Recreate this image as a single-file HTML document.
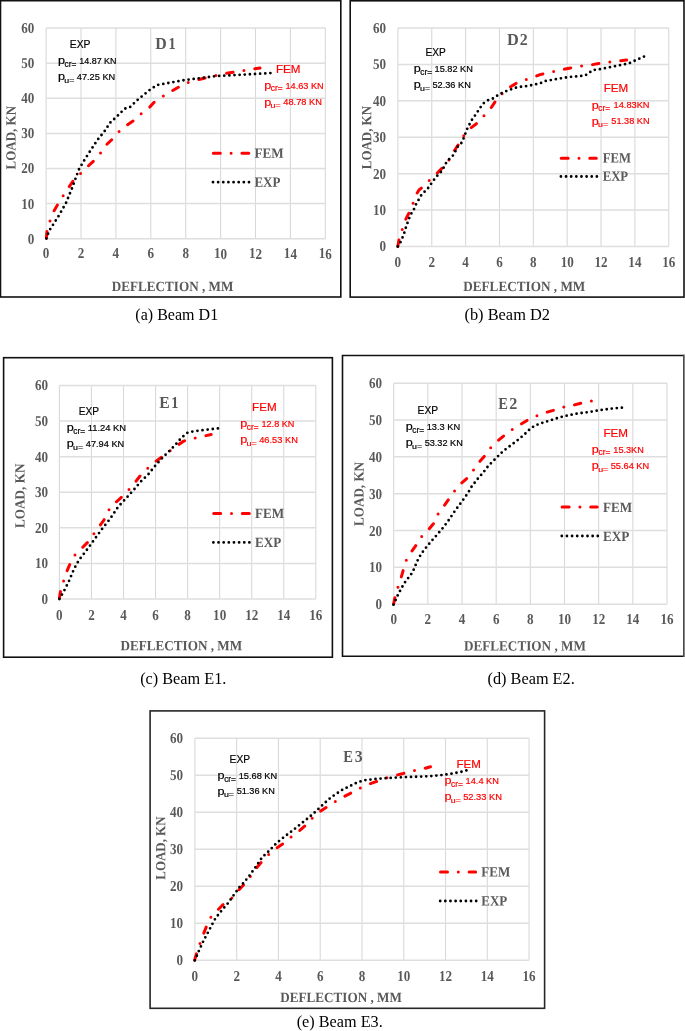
<!DOCTYPE html><html><head><meta charset="utf-8"><style>html,body{margin:0;padding:0;background:#fff;width:685px;height:1031px;overflow:hidden}svg{display:block}</style></head><body>
<svg style="will-change:transform" width="685" height="1031" viewBox="0 0 685 1031">
<rect width="685" height="1031" fill="#fff"/>
<rect x="0.5" y="0.7" width="340.3" height="296.3" fill="none" stroke="#111" stroke-width="1.6"/>
<path d="M46.1 28.1V238.7M81 28.1V238.7M115.9 28.1V238.7M150.8 28.1V238.7M185.7 28.1V238.7M220.6 28.1V238.7M255.5 28.1V238.7M290.4 28.1V238.7M325.3 28.1V238.7" stroke="#d9d9d9" stroke-width="1.1" fill="none"/>
<path d="M46.1 238.7H325.3M46.1 203.6H325.3M46.1 168.5H325.3M46.1 133.4H325.3M46.1 98.3H325.3M46.1 63.2H325.3M46.1 28.1H325.3" stroke="#dedede" stroke-width="1.5" fill="none"/>
<g font-family='"Liberation Serif", serif' font-weight="bold" font-size="13.1" fill="#595959"><text transform="translate(34.4 243.7) rotate(0.03) scale(1 1.15)" text-anchor="end">0</text><text transform="translate(34.4 208.6) rotate(0.03) scale(1 1.15)" text-anchor="end">10</text><text transform="translate(34.4 173.5) rotate(0.03) scale(1 1.15)" text-anchor="end">20</text><text transform="translate(34.4 138.4) rotate(0.03) scale(1 1.15)" text-anchor="end">30</text><text transform="translate(34.4 103.3) rotate(0.03) scale(1 1.15)" text-anchor="end">40</text><text transform="translate(34.4 68.2) rotate(0.03) scale(1 1.15)" text-anchor="end">50</text><text transform="translate(34.4 33.1) rotate(0.03) scale(1 1.15)" text-anchor="end">60</text><text transform="translate(46.1 258.5) rotate(0.03) scale(1 1.15)" text-anchor="middle">0</text><text transform="translate(81 258.5) rotate(0.03) scale(1 1.15)" text-anchor="middle">2</text><text transform="translate(115.9 258.5) rotate(0.03) scale(1 1.15)" text-anchor="middle">4</text><text transform="translate(150.8 258.5) rotate(0.03) scale(1 1.15)" text-anchor="middle">6</text><text transform="translate(185.7 258.5) rotate(0.03) scale(1 1.15)" text-anchor="middle">8</text><text transform="translate(220.6 258.5) rotate(0.03) scale(1 1.15)" text-anchor="middle">10</text><text transform="translate(255.5 258.5) rotate(0.03) scale(1 1.15)" text-anchor="middle">12</text><text transform="translate(290.4 258.5) rotate(0.03) scale(1 1.15)" text-anchor="middle">14</text><text transform="translate(325.3 258.5) rotate(0.03) scale(1 1.15)" text-anchor="middle">16</text></g>
<g font-family='"Liberation Serif", serif' font-weight="bold" fill="#595959">
<text transform="translate(15.6 169.2) rotate(-89.97) scale(1 1.06)" x="-0.19" y="0" font-size="13.2" textLength="63.38" lengthAdjust="spacingAndGlyphs">LOAD, KN</text>
<text transform="translate(111.8 291) rotate(0.03) scale(1 1.07)" font-size="13.2" textLength="121.49" lengthAdjust="spacingAndGlyphs">DEFLECTION , MM</text>
<text x="155.36" y="49.3" font-size="16" textLength="11.49" lengthAdjust="spacingAndGlyphs">D</text>
<text x="168.45" y="49.3" font-size="16" textLength="7.16" lengthAdjust="spacingAndGlyphs">1</text>
<text transform="translate(254.4 157.8) rotate(0.03) scale(1 1.1)" font-size="12.8" textLength="29.15" lengthAdjust="spacingAndGlyphs">FEM</text>
<text transform="translate(254.41 186.7) rotate(0.03) scale(1 1.1)" font-size="12.8" textLength="25.92" lengthAdjust="spacingAndGlyphs">EXP</text>
</g>
<g font-family='"Liberation Sans", sans-serif' fill="#000" stroke="#000" stroke-width="0.2">
<text x="69.87" y="47.7" font-size="11.6" textLength="20.65" lengthAdjust="spacingAndGlyphs">EXP</text>
<text x="57.98" y="64.1" font-size="11.5" textLength="7.04" lengthAdjust="spacingAndGlyphs">p</text>
<text x="64.57" y="66.5" font-size="8.8" textLength="11.83" lengthAdjust="spacingAndGlyphs">cr=</text>
<text x="79.23" y="63.9" font-size="9.7" textLength="37.33" lengthAdjust="spacingAndGlyphs">14.87 KN</text>
<text x="57.98" y="79.8" font-size="11.5" textLength="7.04" lengthAdjust="spacingAndGlyphs">p</text>
<text x="64.33" y="82.6" font-size="7.8" textLength="10.01" lengthAdjust="spacingAndGlyphs">u=</text>
<text x="76.82" y="79.6" font-size="9.7" textLength="38.36" lengthAdjust="spacingAndGlyphs">47.25 KN</text>
</g>
<g font-family='"Liberation Sans", sans-serif' fill="#ff0000" stroke="#ff0000" stroke-width="0.2">
<text x="275.97" y="72.8" font-size="11.6" textLength="24.57" lengthAdjust="spacingAndGlyphs">FEM</text>
<text x="264.18" y="89" font-size="11.5" textLength="7.04" lengthAdjust="spacingAndGlyphs">p</text>
<text x="270.77" y="91.4" font-size="8.8" textLength="11.83" lengthAdjust="spacingAndGlyphs">cr=</text>
<text x="285.51" y="88.8" font-size="9.7" textLength="38.26" lengthAdjust="spacingAndGlyphs">14.63 KN</text>
<text x="264.18" y="105.6" font-size="11.5" textLength="7.04" lengthAdjust="spacingAndGlyphs">p</text>
<text x="270.53" y="108.4" font-size="7.8" textLength="10.01" lengthAdjust="spacingAndGlyphs">u=</text>
<text x="283.32" y="105.4" font-size="9.7" textLength="38.57" lengthAdjust="spacingAndGlyphs">48.78 KN</text>
</g>
<path d="M213.3 153.3H248.8" stroke="#ff0000" stroke-width="3" stroke-linecap="round" stroke-dasharray="7 10.8 0 10.8" fill="none"/>
<path d="M213 182.2H249.03" stroke="#000" stroke-width="2.8" stroke-linecap="round" stroke-dasharray="0 5.14" fill="none"/>
<polyline points="46.4,238 47,231 50,221 54,211 58,204 63,196 69,187 73,181 80,174 86.8,167.4 93.4,161.2 99.9,154 105.3,145.8 111.9,139.6 118.2,132.3 125.5,126.2 133.1,121 140,114.5 148.1,109 153.9,102.4 162,96.9 170,92 177,88 186,83 197,80 213,76 225,73.6 241,71 260,68" fill="none" stroke="#ff0000" stroke-width="3" stroke-linecap="round" stroke-linejoin="round" stroke-dasharray="6.5 11 0 11"/>
<polyline points="46.4,238.6 49,231 58,217 66,203 72.2,187.8 78.8,169.6 83.9,160.8 91.9,148.4 97.7,139.6 104.3,131.6 110.1,122.8 117.4,116 124.7,108.7 129.9,107.2 137.2,100.2 145.2,93.6 149.6,90 157,85 185,80 217,76 237,75 270.5,73.1" fill="none" stroke="#000" stroke-width="2.8" stroke-linecap="round" stroke-linejoin="round" stroke-dasharray="0 5.132"/>
<g font-family='"Liberation Serif", serif' fill="#000"><text x="135.38" y="319.5" font-size="16" textLength="82.78" lengthAdjust="spacingAndGlyphs">(a) Beam D1</text></g>
<rect x="350.2" y="0.8" width="333.8" height="296.3" fill="none" stroke="#111" stroke-width="1.6"/>
<path d="M397.9 28.1V246.4M431.76 28.1V246.4M465.61 28.1V246.4M499.47 28.1V246.4M533.33 28.1V246.4M567.18 28.1V246.4M601.04 28.1V246.4M634.89 28.1V246.4M668.75 28.1V246.4" stroke="#d9d9d9" stroke-width="1.1" fill="none"/>
<path d="M397.9 246.4H668.75M397.9 210.02H668.75M397.9 173.63H668.75M397.9 137.25H668.75M397.9 100.87H668.75M397.9 64.48H668.75M397.9 28.1H668.75" stroke="#dedede" stroke-width="1.5" fill="none"/>
<g font-family='"Liberation Serif", serif' font-weight="bold" font-size="13.1" fill="#595959"><text transform="translate(386 251.4) rotate(0.03) scale(1 1.15)" text-anchor="end">0</text><text transform="translate(386 215.02) rotate(0.03) scale(1 1.15)" text-anchor="end">10</text><text transform="translate(386 178.63) rotate(0.03) scale(1 1.15)" text-anchor="end">20</text><text transform="translate(386 142.25) rotate(0.03) scale(1 1.15)" text-anchor="end">30</text><text transform="translate(386 105.87) rotate(0.03) scale(1 1.15)" text-anchor="end">40</text><text transform="translate(386 69.48) rotate(0.03) scale(1 1.15)" text-anchor="end">50</text><text transform="translate(386 33.1) rotate(0.03) scale(1 1.15)" text-anchor="end">60</text><text transform="translate(397.9 266.8) rotate(0.03) scale(1 1.15)" text-anchor="middle">0</text><text transform="translate(431.76 266.8) rotate(0.03) scale(1 1.15)" text-anchor="middle">2</text><text transform="translate(465.61 266.8) rotate(0.03) scale(1 1.15)" text-anchor="middle">4</text><text transform="translate(499.47 266.8) rotate(0.03) scale(1 1.15)" text-anchor="middle">6</text><text transform="translate(533.33 266.8) rotate(0.03) scale(1 1.15)" text-anchor="middle">8</text><text transform="translate(567.18 266.8) rotate(0.03) scale(1 1.15)" text-anchor="middle">10</text><text transform="translate(601.04 266.8) rotate(0.03) scale(1 1.15)" text-anchor="middle">12</text><text transform="translate(634.89 266.8) rotate(0.03) scale(1 1.15)" text-anchor="middle">14</text><text transform="translate(668.75 266.8) rotate(0.03) scale(1 1.15)" text-anchor="middle">16</text></g>
<g font-family='"Liberation Serif", serif' font-weight="bold" fill="#595959">
<text transform="translate(371.2 169) rotate(-89.97) scale(1 1.06)" x="-0.19" y="0" font-size="13.2" textLength="63.18" lengthAdjust="spacingAndGlyphs">LOAD, KN</text>
<text transform="translate(463.2 291) rotate(0.03) scale(1 1.07)" font-size="13.2" textLength="122.1" lengthAdjust="spacingAndGlyphs">DEFLECTION , MM</text>
<text x="506.95" y="44.9" font-size="16" textLength="11.82" lengthAdjust="spacingAndGlyphs">D</text>
<text x="519.76" y="44.9" font-size="16" textLength="7.98" lengthAdjust="spacingAndGlyphs">2</text>
<text transform="translate(602.71 162.5) rotate(0.03) scale(1 1.1)" font-size="12.8" textLength="28.23" lengthAdjust="spacingAndGlyphs">FEM</text>
<text transform="translate(602.71 180.8) rotate(0.03) scale(1 1.1)" font-size="12.8" textLength="25.41" lengthAdjust="spacingAndGlyphs">EXP</text>
</g>
<g font-family='"Liberation Sans", sans-serif' fill="#000" stroke="#000" stroke-width="0.2">
<text x="425.59" y="55.9" font-size="11.6" textLength="20.22" lengthAdjust="spacingAndGlyphs">EXP</text>
<text x="413.68" y="72.1" font-size="11.5" textLength="7.04" lengthAdjust="spacingAndGlyphs">p</text>
<text x="420.27" y="74.5" font-size="8.8" textLength="11.83" lengthAdjust="spacingAndGlyphs">cr=</text>
<text x="434.61" y="71.9" font-size="9.7" textLength="38.26" lengthAdjust="spacingAndGlyphs">15.82 KN</text>
<text x="413.68" y="87.7" font-size="11.5" textLength="7.04" lengthAdjust="spacingAndGlyphs">p</text>
<text x="420.03" y="90.5" font-size="7.8" textLength="10.01" lengthAdjust="spacingAndGlyphs">u=</text>
<text x="432.43" y="87.5" font-size="9.7" textLength="38.45" lengthAdjust="spacingAndGlyphs">52.36 KN</text>
</g>
<g font-family='"Liberation Sans", sans-serif' fill="#ff0000" stroke="#ff0000" stroke-width="0.2">
<text x="603.77" y="92.1" font-size="11.6" textLength="24.47" lengthAdjust="spacingAndGlyphs">FEM</text>
<text x="591.78" y="108.5" font-size="11.5" textLength="7.04" lengthAdjust="spacingAndGlyphs">p</text>
<text x="598.37" y="110.9" font-size="8.8" textLength="11.83" lengthAdjust="spacingAndGlyphs">cr=</text>
<text x="613.51" y="108.3" font-size="9.7" textLength="36.05" lengthAdjust="spacingAndGlyphs">14.83KN</text>
<text x="591.78" y="124.6" font-size="11.5" textLength="7.04" lengthAdjust="spacingAndGlyphs">p</text>
<text x="598.13" y="127.4" font-size="7.8" textLength="10.01" lengthAdjust="spacingAndGlyphs">u=</text>
<text x="611.33" y="124.4" font-size="9.7" textLength="38.24" lengthAdjust="spacingAndGlyphs">51.38 KN</text>
</g>
<path d="M561.2 158.2H596.3" stroke="#ff0000" stroke-width="3" stroke-linecap="round" stroke-dasharray="7 10.8 0 10.8" fill="none"/>
<path d="M560.9 176.5H596.93" stroke="#000" stroke-width="2.8" stroke-linecap="round" stroke-dasharray="0 5.14" fill="none"/>
<polyline points="397.8,246.4 399.2,238.7 402.3,229.3 405.4,220 409.3,212.2 413,203.4 416.8,193.7 419,190 422.1,187.6 429.1,180.6 436.4,173.9 442.2,168 448.6,160.4 453.7,151.7 458.3,144.7 463.4,136 470,128.6 477.2,123.1 483.5,116.2 490.4,108.9 495.2,101.6 501,94.7 509.3,87.7 515.9,83.4 525.4,79.7 534.6,76.8 540,74.6 553,71.6 565,69 581,66 589.4,65.1 598.9,63.6 608.4,62.2 617.8,61.2 626.6,60.1" fill="none" stroke="#ff0000" stroke-width="3" stroke-linecap="round" stroke-linejoin="round" stroke-dasharray="6.5 11 0 11"/>
<polyline points="397.8,246.5 400.2,242.8 402.5,237.5 404.3,232.8 405.8,227.8 407.4,223.2 409.3,218 411.3,213.6 414,209.1 415.9,204.5 418.6,199.8 421,195.6 424.7,191.6 428.2,187.9 431.1,183.8 434,179.7 437.3,175.6 441.1,171.8 443.6,167.8 446,163.1 449,159.3 453,155.5 455.3,151.4 457.4,147 461.1,143.5 463.4,138.8 467,129.3 471.4,120.6 475,115.5 478,111.1 480.9,106.7 483.8,103.1 488.2,100.1 492.6,98.7 496.9,95.8 501.3,93.3 506.4,91 511.5,89.2 515.9,87.7 521.8,86.6 527.6,86 533.4,84.8 540,83.4 545,81 569,77 585,75.6 593,70 599.6,69.2 614.2,66.3 628.8,63.4 644.1,56.5" fill="none" stroke="#000" stroke-width="2.8" stroke-linecap="round" stroke-linejoin="round" stroke-dasharray="0 5.123"/>
<g font-family='"Liberation Serif", serif' fill="#000"><text x="464.46" y="319.8" font-size="16" textLength="85.55" lengthAdjust="spacingAndGlyphs">(b) Beam D2</text></g>
<rect x="3.6" y="357.7" width="328.8" height="299.5" fill="none" stroke="#111" stroke-width="1.6"/>
<path d="M59.4 385.5V599M91.45 385.5V599M123.5 385.5V599M155.55 385.5V599M187.6 385.5V599M219.65 385.5V599M251.7 385.5V599M283.75 385.5V599M315.8 385.5V599" stroke="#d9d9d9" stroke-width="1.1" fill="none"/>
<path d="M59.4 599H315.8M59.4 563.42H315.8M59.4 527.83H315.8M59.4 492.25H315.8M59.4 456.67H315.8M59.4 421.08H315.8M59.4 385.5H315.8" stroke="#dedede" stroke-width="1.5" fill="none"/>
<g font-family='"Liberation Serif", serif' font-weight="bold" font-size="13.1" fill="#595959"><text transform="translate(48 604) rotate(0.03) scale(1 1.15)" text-anchor="end">0</text><text transform="translate(48 568.42) rotate(0.03) scale(1 1.15)" text-anchor="end">10</text><text transform="translate(48 532.83) rotate(0.03) scale(1 1.15)" text-anchor="end">20</text><text transform="translate(48 497.25) rotate(0.03) scale(1 1.15)" text-anchor="end">30</text><text transform="translate(48 461.67) rotate(0.03) scale(1 1.15)" text-anchor="end">40</text><text transform="translate(48 426.08) rotate(0.03) scale(1 1.15)" text-anchor="end">50</text><text transform="translate(48 390.5) rotate(0.03) scale(1 1.15)" text-anchor="end">60</text><text transform="translate(59.4 619.9) rotate(0.03) scale(1 1.15)" text-anchor="middle">0</text><text transform="translate(91.45 619.9) rotate(0.03) scale(1 1.15)" text-anchor="middle">2</text><text transform="translate(123.5 619.9) rotate(0.03) scale(1 1.15)" text-anchor="middle">4</text><text transform="translate(155.55 619.9) rotate(0.03) scale(1 1.15)" text-anchor="middle">6</text><text transform="translate(187.6 619.9) rotate(0.03) scale(1 1.15)" text-anchor="middle">8</text><text transform="translate(219.65 619.9) rotate(0.03) scale(1 1.15)" text-anchor="middle">10</text><text transform="translate(251.7 619.9) rotate(0.03) scale(1 1.15)" text-anchor="middle">12</text><text transform="translate(283.75 619.9) rotate(0.03) scale(1 1.15)" text-anchor="middle">14</text><text transform="translate(315.8 619.9) rotate(0.03) scale(1 1.15)" text-anchor="middle">16</text></g>
<g font-family='"Liberation Serif", serif' font-weight="bold" fill="#595959">
<text transform="translate(24.5 527.7) rotate(-89.97) scale(1 1.06)" x="-0.2" y="0" font-size="13.2" textLength="64.28" lengthAdjust="spacingAndGlyphs">LOAD, KN</text>
<text transform="translate(120.4 650.2) rotate(0.03) scale(1 1.07)" font-size="13.2" textLength="121.79" lengthAdjust="spacingAndGlyphs">DEFLECTION , MM</text>
<text x="159.36" y="407.9" font-size="16" textLength="10.45" lengthAdjust="spacingAndGlyphs">E</text>
<text x="171.15" y="407.9" font-size="16" textLength="7.16" lengthAdjust="spacingAndGlyphs">1</text>
<text transform="translate(255 517.9) rotate(0.03) scale(1 1.1)" font-size="12.8" textLength="29.15" lengthAdjust="spacingAndGlyphs">FEM</text>
<text transform="translate(255 546.95) rotate(0.03) scale(1 1.1)" font-size="12.8" textLength="26.12" lengthAdjust="spacingAndGlyphs">EXP</text>
</g>
<g font-family='"Liberation Sans", sans-serif' fill="#000" stroke="#000" stroke-width="0.2">
<text x="78.79" y="415" font-size="11.6" textLength="20.33" lengthAdjust="spacingAndGlyphs">EXP</text>
<text x="66.78" y="431.2" font-size="11.5" textLength="7.04" lengthAdjust="spacingAndGlyphs">p</text>
<text x="73.37" y="433.6" font-size="8.8" textLength="11.83" lengthAdjust="spacingAndGlyphs">cr=</text>
<text x="87.7" y="431" font-size="9.7" textLength="38.46" lengthAdjust="spacingAndGlyphs">11.24 KN</text>
<text x="66.78" y="447.2" font-size="11.5" textLength="7.04" lengthAdjust="spacingAndGlyphs">p</text>
<text x="73.13" y="450" font-size="7.8" textLength="10.01" lengthAdjust="spacingAndGlyphs">u=</text>
<text x="85.82" y="447" font-size="9.7" textLength="38.36" lengthAdjust="spacingAndGlyphs">47.94 KN</text>
</g>
<g font-family='"Liberation Sans", sans-serif' fill="#ff0000" stroke="#ff0000" stroke-width="0.2">
<text x="252.07" y="410.7" font-size="11.6" textLength="24.57" lengthAdjust="spacingAndGlyphs">FEM</text>
<text x="240.18" y="427.4" font-size="11.5" textLength="7.04" lengthAdjust="spacingAndGlyphs">p</text>
<text x="246.77" y="429.8" font-size="8.8" textLength="11.83" lengthAdjust="spacingAndGlyphs">cr=</text>
<text x="261.52" y="427.2" font-size="9.7" textLength="32.84" lengthAdjust="spacingAndGlyphs">12.8 KN</text>
<text x="240.18" y="443.1" font-size="11.5" textLength="7.04" lengthAdjust="spacingAndGlyphs">p</text>
<text x="246.53" y="445.9" font-size="7.8" textLength="10.01" lengthAdjust="spacingAndGlyphs">u=</text>
<text x="259.21" y="442.9" font-size="9.7" textLength="38.67" lengthAdjust="spacingAndGlyphs">46.53 KN</text>
</g>
<path d="M213.7 513.4H249.3" stroke="#ff0000" stroke-width="3" stroke-linecap="round" stroke-dasharray="7 10.8 0 10.8" fill="none"/>
<path d="M213.4 542.45H249.43" stroke="#000" stroke-width="2.8" stroke-linecap="round" stroke-dasharray="0 5.14" fill="none"/>
<polyline points="59.4,598 60.4,592 63.6,581 67,571 70,564 74.4,555.6 82,548 88,542 93,535 99,527 104,520 108,511 115,503 120,498.7 128,490.7 134.5,483.4 139.6,476.5 146.2,469.5 153.7,463 160.1,458.2 168.2,452.1 176.2,446.5 183.4,441.2 192.7,438.5 202.2,436.4 211.2,434.5" fill="none" stroke="#ff0000" stroke-width="3" stroke-linecap="round" stroke-linejoin="round" stroke-dasharray="6.5 11 0 11"/>
<polyline points="59.4,599 64,591 69,581 74,569 79,560 86,551 94,540 102,529 110,519 118,507 127.2,497.1 134.5,489 140.9,481.5 148.1,474.6 154.5,466.6 161,459.3 168.2,452.1 175.4,444.9 179.4,440.1 183.4,436.1 187.4,432.8 192.3,431.6 197.1,430.9 203.5,430 209.9,429.3 218,428.4" fill="none" stroke="#000" stroke-width="2.8" stroke-linecap="round" stroke-linejoin="round" stroke-dasharray="0 5.151"/>
<g font-family='"Liberation Serif", serif' fill="#000"><text x="140.17" y="683.6" font-size="16" textLength="86.26" lengthAdjust="spacingAndGlyphs">(c) Beam E1.</text></g>
<path d="M683.7 355.5H342.5M342.5 355.5V656.2M342.5 656.2H683.7" fill="none" stroke="#111" stroke-width="1.6" stroke-linecap="square"/>
<path d="M683.5 354.7V657" stroke="#4a4a4a" stroke-width="1"/>
<path d="M684.5 354.7V657" stroke="#858585" stroke-width="1"/>
<path d="M393.7 383.2V604.2M427.86 383.2V604.2M462.02 383.2V604.2M496.19 383.2V604.2M530.35 383.2V604.2M564.51 383.2V604.2M598.67 383.2V604.2M632.84 383.2V604.2M667 383.2V604.2" stroke="#d9d9d9" stroke-width="1.1" fill="none"/>
<path d="M393.7 604.2H667M393.7 567.37H667M393.7 530.53H667M393.7 493.7H667M393.7 456.87H667M393.7 420.03H667M393.7 383.2H667" stroke="#dedede" stroke-width="1.5" fill="none"/>
<g font-family='"Liberation Serif", serif' font-weight="bold" font-size="13.1" fill="#595959"><text transform="translate(382 609.2) rotate(0.03) scale(1 1.15)" text-anchor="end">0</text><text transform="translate(382 572.37) rotate(0.03) scale(1 1.15)" text-anchor="end">10</text><text transform="translate(382 535.53) rotate(0.03) scale(1 1.15)" text-anchor="end">20</text><text transform="translate(382 498.7) rotate(0.03) scale(1 1.15)" text-anchor="end">30</text><text transform="translate(382 461.87) rotate(0.03) scale(1 1.15)" text-anchor="end">40</text><text transform="translate(382 425.03) rotate(0.03) scale(1 1.15)" text-anchor="end">50</text><text transform="translate(382 388.2) rotate(0.03) scale(1 1.15)" text-anchor="end">60</text><text transform="translate(393.7 624.45) rotate(0.03) scale(1 1.15)" text-anchor="middle">0</text><text transform="translate(427.86 624.45) rotate(0.03) scale(1 1.15)" text-anchor="middle">2</text><text transform="translate(462.02 624.45) rotate(0.03) scale(1 1.15)" text-anchor="middle">4</text><text transform="translate(496.19 624.45) rotate(0.03) scale(1 1.15)" text-anchor="middle">6</text><text transform="translate(530.35 624.45) rotate(0.03) scale(1 1.15)" text-anchor="middle">8</text><text transform="translate(564.51 624.45) rotate(0.03) scale(1 1.15)" text-anchor="middle">10</text><text transform="translate(598.67 624.45) rotate(0.03) scale(1 1.15)" text-anchor="middle">12</text><text transform="translate(632.84 624.45) rotate(0.03) scale(1 1.15)" text-anchor="middle">14</text><text transform="translate(667 624.45) rotate(0.03) scale(1 1.15)" text-anchor="middle">16</text></g>
<g font-family='"Liberation Serif", serif' font-weight="bold" fill="#595959">
<text transform="translate(363.6 525.8) rotate(-89.97) scale(1 1.06)" x="-0.2" y="0" font-size="13.2" textLength="64.08" lengthAdjust="spacingAndGlyphs">LOAD, KN</text>
<text transform="translate(463.9 650.4) rotate(0.03) scale(1 1.07)" font-size="13.2" textLength="122" lengthAdjust="spacingAndGlyphs">DEFLECTION , MM</text>
<text x="498.18" y="408.7" font-size="16" textLength="9.67" lengthAdjust="spacingAndGlyphs">E</text>
<text x="509.35" y="408.7" font-size="16" textLength="8.1" lengthAdjust="spacingAndGlyphs">2</text>
<text transform="translate(603 512) rotate(0.03) scale(1 1.1)" font-size="12.8" textLength="29.15" lengthAdjust="spacingAndGlyphs">FEM</text>
<text transform="translate(603 540.9) rotate(0.03) scale(1 1.1)" font-size="12.8" textLength="26.43" lengthAdjust="spacingAndGlyphs">EXP</text>
</g>
<g font-family='"Liberation Sans", sans-serif' fill="#000" stroke="#000" stroke-width="0.2">
<text x="417.58" y="413.6" font-size="11.6" textLength="20.55" lengthAdjust="spacingAndGlyphs">EXP</text>
<text x="405.78" y="430.2" font-size="11.5" textLength="7.04" lengthAdjust="spacingAndGlyphs">p</text>
<text x="412.37" y="432.6" font-size="8.8" textLength="11.83" lengthAdjust="spacingAndGlyphs">cr=</text>
<text x="426.71" y="430" font-size="9.7" textLength="33.47" lengthAdjust="spacingAndGlyphs">13.3 KN</text>
<text x="405.78" y="446.2" font-size="11.5" textLength="7.04" lengthAdjust="spacingAndGlyphs">p</text>
<text x="412.13" y="449" font-size="7.8" textLength="10.01" lengthAdjust="spacingAndGlyphs">u=</text>
<text x="424.63" y="446" font-size="9.7" textLength="38.14" lengthAdjust="spacingAndGlyphs">53.32 KN</text>
</g>
<g font-family='"Liberation Sans", sans-serif' fill="#ff0000" stroke="#ff0000" stroke-width="0.2">
<text x="603.47" y="436.6" font-size="11.6" textLength="24.57" lengthAdjust="spacingAndGlyphs">FEM</text>
<text x="591.88" y="452.8" font-size="11.5" textLength="7.04" lengthAdjust="spacingAndGlyphs">p</text>
<text x="598.47" y="455.2" font-size="8.8" textLength="11.83" lengthAdjust="spacingAndGlyphs">cr=</text>
<text x="613.32" y="452.6" font-size="9.7" textLength="30.42" lengthAdjust="spacingAndGlyphs">15.3KN</text>
<text x="591.88" y="469.1" font-size="11.5" textLength="7.04" lengthAdjust="spacingAndGlyphs">p</text>
<text x="598.23" y="471.9" font-size="7.8" textLength="10.01" lengthAdjust="spacingAndGlyphs">u=</text>
<text x="610.73" y="468.9" font-size="9.7" textLength="38.45" lengthAdjust="spacingAndGlyphs">55.64 KN</text>
</g>
<path d="M562.1 507.1H597.2" stroke="#ff0000" stroke-width="3" stroke-linecap="round" stroke-dasharray="7 10.8 0 10.8" fill="none"/>
<path d="M561.8 536H597.83" stroke="#000" stroke-width="2.8" stroke-linecap="round" stroke-dasharray="0 5.14" fill="none"/>
<polyline points="393.6,604 395,597 398,587 401,578 403.6,569 406.4,560 412,551 417,544 422,536 429,529 434,523 438,514 444,506 449.6,498 454.8,490.6 461.2,483.3 467.7,477.7 473.8,469.7 479.7,461.6 485.3,455.2 491,447.2 497.9,440.8 504.6,435.1 512.6,429.2 520.7,424.4 528.7,419.4 537.5,415.6 546.7,412.3 555.2,409.9 564,407 573.4,405.2 582.6,402.7 591.8,401" fill="none" stroke="#ff0000" stroke-width="3" stroke-linecap="round" stroke-linejoin="round" stroke-dasharray="6.45 10.91 0 10.91"/>
<polyline points="393.5,604.7 395.7,599.9 397.8,595.1 400.1,590.8 402.6,586.2 405.4,581.6 408.7,577.4 411.7,573.4 414,569 415.9,564.3 418,559.5 420.5,555.1 423.4,550.9 426.8,546.6 430.1,542.7 433.5,538.7 436.9,534.9 440.2,531.1 443.6,527.1 446.5,523.2 449.6,518.9 452.5,514.4 455.4,510.3 458.4,506.1 461.5,502.1 464.4,497.9 467.6,493.6 470,489.5 471.7,486.5 477.3,479.3 482.9,472.9 488.5,465.7 493.4,460.8 497.4,456.8 503,451.2 509.4,446.4 515.8,441.6 520.7,437.6 526.3,432.7 530.3,428.7 535.1,425.5 541.5,423.1 548,421 554.4,419.1 560,417.2 565,416 577,413.6 589,412 601,410 613,408.4 622,407.7" fill="none" stroke="#000" stroke-width="2.8" stroke-linecap="round" stroke-linejoin="round" stroke-dasharray="0 5.076"/>
<g font-family='"Liberation Serif", serif' fill="#000"><text x="487.57" y="684.1" font-size="16" textLength="87.18" lengthAdjust="spacingAndGlyphs">(d) Beam E2.</text></g>
<rect x="150.1" y="710.9" width="394.5" height="297.4" fill="none" stroke="#262626" stroke-width="1.6"/>
<path d="M194.9 738.3V960.3M236.67 738.3V960.3M278.44 738.3V960.3M320.21 738.3V960.3M361.98 738.3V960.3M403.74 738.3V960.3M445.51 738.3V960.3M487.28 738.3V960.3M529.05 738.3V960.3" stroke="#d9d9d9" stroke-width="1.1" fill="none"/>
<path d="M194.9 960.3H529.05M194.9 923.3H529.05M194.9 886.3H529.05M194.9 849.3H529.05M194.9 812.3H529.05M194.9 775.3H529.05M194.9 738.3H529.05" stroke="#dedede" stroke-width="1.5" fill="none"/>
<g font-family='"Liberation Serif", serif' font-weight="bold" font-size="13.1" fill="#595959"><text transform="translate(183 965.3) rotate(0.03) scale(1 1.15)" text-anchor="end">0</text><text transform="translate(183 928.3) rotate(0.03) scale(1 1.15)" text-anchor="end">10</text><text transform="translate(183 891.3) rotate(0.03) scale(1 1.15)" text-anchor="end">20</text><text transform="translate(183 854.3) rotate(0.03) scale(1 1.15)" text-anchor="end">30</text><text transform="translate(183 817.3) rotate(0.03) scale(1 1.15)" text-anchor="end">40</text><text transform="translate(183 780.3) rotate(0.03) scale(1 1.15)" text-anchor="end">50</text><text transform="translate(183 743.3) rotate(0.03) scale(1 1.15)" text-anchor="end">60</text><text transform="translate(194.9 980.95) rotate(0.03) scale(1 1.15)" text-anchor="middle">0</text><text transform="translate(236.67 980.95) rotate(0.03) scale(1 1.15)" text-anchor="middle">2</text><text transform="translate(278.44 980.95) rotate(0.03) scale(1 1.15)" text-anchor="middle">4</text><text transform="translate(320.21 980.95) rotate(0.03) scale(1 1.15)" text-anchor="middle">6</text><text transform="translate(361.98 980.95) rotate(0.03) scale(1 1.15)" text-anchor="middle">8</text><text transform="translate(403.74 980.95) rotate(0.03) scale(1 1.15)" text-anchor="middle">10</text><text transform="translate(445.51 980.95) rotate(0.03) scale(1 1.15)" text-anchor="middle">12</text><text transform="translate(487.28 980.95) rotate(0.03) scale(1 1.15)" text-anchor="middle">14</text><text transform="translate(529.05 980.95) rotate(0.03) scale(1 1.15)" text-anchor="middle">16</text></g>
<g font-family='"Liberation Serif", serif' font-weight="bold" fill="#595959">
<text transform="translate(165.3 879.5) rotate(-89.97) scale(1 1.06)" x="-0.19" y="0" font-size="13.2" textLength="63.18" lengthAdjust="spacingAndGlyphs">LOAD, KN</text>
<text transform="translate(280.3 1002) rotate(0.03) scale(1 1.07)" font-size="13.2" textLength="121.49" lengthAdjust="spacingAndGlyphs">DEFLECTION , MM</text>
<text x="343.18" y="761.8" font-size="16" textLength="9.67" lengthAdjust="spacingAndGlyphs">E</text>
<text x="354.65" y="761.8" font-size="16" textLength="7.91" lengthAdjust="spacingAndGlyphs">3</text>
<text transform="translate(481.3 876.5) rotate(0.03) scale(1 1.1)" font-size="12.8" textLength="28.94" lengthAdjust="spacingAndGlyphs">FEM</text>
<text transform="translate(481.31 905.5) rotate(0.03) scale(1 1.1)" font-size="12.8" textLength="25.92" lengthAdjust="spacingAndGlyphs">EXP</text>
</g>
<g font-family='"Liberation Sans", sans-serif' fill="#000" stroke="#000" stroke-width="0.2">
<text x="229.58" y="763" font-size="11.6" textLength="20.55" lengthAdjust="spacingAndGlyphs">EXP</text>
<text x="217.58" y="779.2" font-size="11.5" textLength="7.04" lengthAdjust="spacingAndGlyphs">p</text>
<text x="224.17" y="781.6" font-size="8.8" textLength="11.83" lengthAdjust="spacingAndGlyphs">cr=</text>
<text x="238.71" y="779" font-size="9.7" textLength="38.47" lengthAdjust="spacingAndGlyphs">15.68 KN</text>
<text x="217.58" y="794.6" font-size="11.5" textLength="7.04" lengthAdjust="spacingAndGlyphs">p</text>
<text x="223.93" y="797.4" font-size="7.8" textLength="10.01" lengthAdjust="spacingAndGlyphs">u=</text>
<text x="236.63" y="794.4" font-size="9.7" textLength="38.14" lengthAdjust="spacingAndGlyphs">51.36 KN</text>
</g>
<g font-family='"Liberation Sans", sans-serif' fill="#ff0000" stroke="#ff0000" stroke-width="0.2">
<text x="456.48" y="767.9" font-size="11.6" textLength="24.36" lengthAdjust="spacingAndGlyphs">FEM</text>
<text x="444.48" y="784.1" font-size="11.5" textLength="7.04" lengthAdjust="spacingAndGlyphs">p</text>
<text x="451.07" y="786.5" font-size="8.8" textLength="11.83" lengthAdjust="spacingAndGlyphs">cr=</text>
<text x="465.61" y="783.9" font-size="9.7" textLength="33.26" lengthAdjust="spacingAndGlyphs">14.4 KN</text>
<text x="444.48" y="799.8" font-size="11.5" textLength="7.04" lengthAdjust="spacingAndGlyphs">p</text>
<text x="450.83" y="802.6" font-size="7.8" textLength="10.01" lengthAdjust="spacingAndGlyphs">u=</text>
<text x="463.13" y="799.6" font-size="9.7" textLength="38.86" lengthAdjust="spacingAndGlyphs">52.33 KN</text>
</g>
<path d="M440.5 872H475.6" stroke="#ff0000" stroke-width="3" stroke-linecap="round" stroke-dasharray="7 10.8 0 10.8" fill="none"/>
<path d="M440.2 901H476.23" stroke="#000" stroke-width="2.8" stroke-linecap="round" stroke-dasharray="0 5.14" fill="none"/>
<polyline points="194.6,960.1 196.8,952.7 200.1,943.1 203.6,933.6 206.6,926 210.8,917.2 214.5,912.8 217.9,909.8 223.7,904.1 231.6,898.4 238.2,890.5 244.1,884.4 250.1,876.7 255.7,869 261.3,862.3 268.2,855 275.8,848.6 283,843.8 290.2,837.7 298.3,831.8 304.7,826.1 311.4,818.9 318.6,812.5 326.4,807.3 334.4,802 343.3,797 350.4,793.3 359.2,788.4 367.8,784.7 376,781.7 385.6,778.2 395,775.5 403.2,773.5 412.8,770.8 423,768.8 430.5,766.8" fill="none" stroke="#ff0000" stroke-width="3" stroke-linecap="round" stroke-linejoin="round" stroke-dasharray="6.5 11 0 11"/>
<polyline points="194.8,960.4 196.8,955.8 198.8,951 201,946.3 203.1,941.6 205.5,936.9 208,932.4 210.3,927.9 212.8,923.2 215.2,918.8 218.2,914.8 221.5,910.7 224.9,906.7 228.1,903 231.2,898.7 234.1,894.5 237.1,890.5 240.1,886.1 243.7,882.8 250.1,874.8 255.7,866.8 262.1,857.4 269.3,850.7 276.6,843 284.6,836.6 292.6,830.5 300.7,824 308.7,817.6 316.7,810.6 323.1,804.5 331.2,797.2 337.3,793.2 340.2,790.9 350.4,785.8 357.6,782.3 364.7,780.2 375,779 385.2,778.2 395.4,777.6 407.7,777 419.9,776.6 432.2,776 442.4,775 452.6,773.5 460.8,771.9 466.5,770.4" fill="none" stroke="#000" stroke-width="2.8" stroke-linecap="round" stroke-linejoin="round" stroke-dasharray="0 5.081"/>
<g font-family='"Liberation Serif", serif' fill="#000"><text x="296.67" y="1027.2" font-size="16" textLength="86.06" lengthAdjust="spacingAndGlyphs">(e) Beam E3.</text></g>
</svg></body></html>
